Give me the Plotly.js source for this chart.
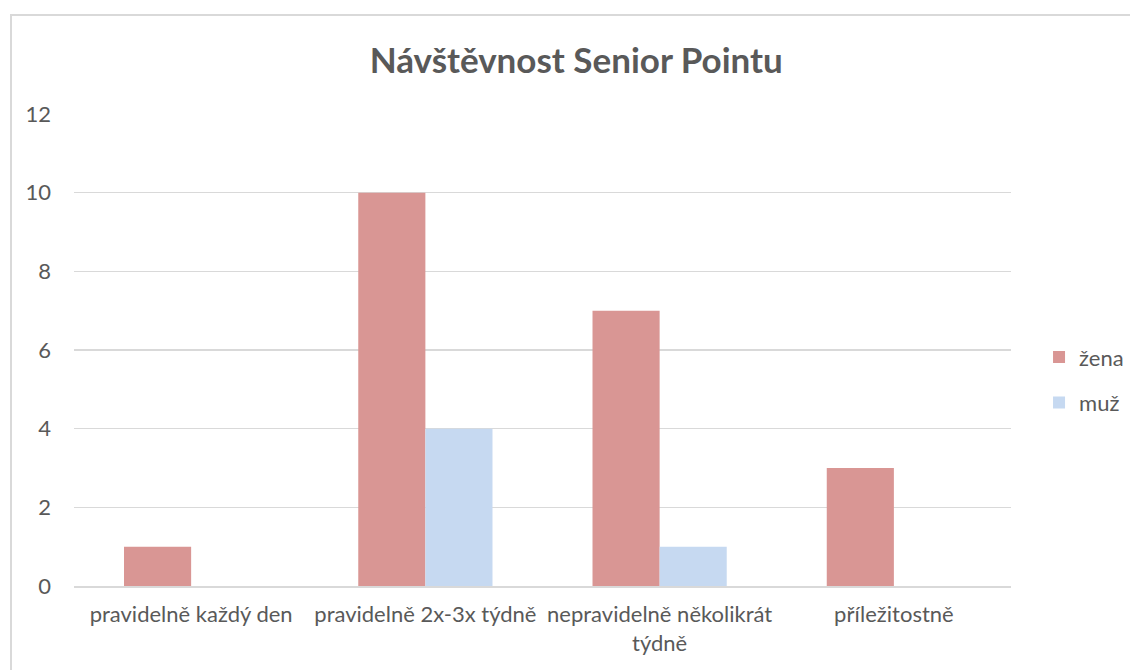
<!DOCTYPE html>
<html>
<head>
<meta charset="utf-8">
<script src="https://cdn.plot.ly/plotly-3.0.1.min.js"></script>
<style>
html,body{margin:0;padding:0;background:#fff;overflow:hidden;}
#chart{position:absolute;left:0;top:0;width:1130px;height:670px;}
#frame{position:absolute;left:10px;top:14px;width:1200px;height:700px;border:2px solid #D9D9D9;pointer-events:none;}
</style>
</head>
<body>
<div id="chart"></div>
<div id="frame"></div>
<script>
const categories = ["pravidelně každý den", "pravidelně 2x-3x týdně", "nepravidelně několikrát<br>týdně", "příležitostně"];
const zena = [1, 10, 7, 3];
const muz = [0, 4, 1, 0];
const seriesNames = ["žena", "muž"];
const yTicks = [0, 2, 4, 6, 8, 10, 12];

const font = "Lato, 'Open Sans', sans-serif";
const textColor = "#595959";

const traces = [
  {type: "bar", name: seriesNames[0], x: categories, y: zena, marker: {color: "#D99694"}, legendgroup: "a"},
  {type: "bar", name: seriesNames[1], x: categories, y: muz, marker: {color: "#C6D9F1"}, legendgroup: "b"}
];

const layout = {
  width: 1130, height: 670,
  margin: {l: 74, r: 119, t: 114, b: 84, autoexpand: false},
  paper_bgcolor: "#fff", plot_bgcolor: "#fff",
  font: {family: font, color: textColor, size: 22},
  title: {text: "<b>Návštěvnost Senior Pointu</b>", font: {family: font, size: 35, color: textColor},
          xref: "container", yref: "container", x: 0.51, y: 0.91, xanchor: "center", yanchor: "middle"},
  barmode: "group", bargap: 0.427, bargroupgap: 0,
  xaxis: {type: "category", showgrid: false, showline: true, linecolor: "#D9D9D9", linewidth: 2,
          ticks: "", ticklabelstandoff: 8, tickfont: {size: 22, color: textColor}, zeroline: false},
  yaxis: {range: [0, 12], tickvals: yTicks, ticktext: yTicks.map(String), showgrid: true, gridcolor: "#D9D9D9", gridwidth: 1.5,
          zeroline: false, showline: false, ticks: "", ticklabelstandoff: 22, tickfont: {size: 22, color: textColor}},
  legend: {xref: "container", x: 0.9195, xanchor: "left", y: 0.436, yanchor: "middle", traceorder: "grouped", tracegroupgap: 14,
           font: {size: 22, color: textColor}, itemwidth: 30},
  showlegend: true
};

Plotly.newPlot("chart", traces, layout, {displayModeBar: false, staticPlot: true});
</script>
</body>
</html>
